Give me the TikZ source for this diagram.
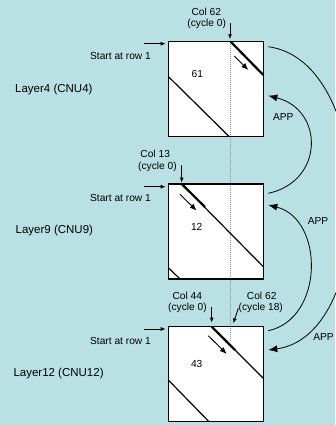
\documentclass[tikz,border=0pt]{standalone}
\usepackage{fontspec}
\setmainfont{Liberation Sans}
\usetikzlibrary{arrows.meta,calc}
\definecolor{bgcyan}{RGB}{185,224,227}
\definecolor{guidegray}{RGB}{150,150,150}
\begin{document}
\begin{tikzpicture}[x=1pt,y=1pt,
  blk/.style={fill=white, minimum size=95pt, inner sep=0pt, outer sep=0pt},
  frame/.style={line width=1.2pt},
  lbl/.style={font=\fontsize{10.2}{12}\selectfont, inner sep=0pt},
  lyr/.style={font=\fontsize{11.5}{13}\selectfont, inner sep=0pt, anchor=west},
  ptr/.style={line width=0.9pt, -{Latex[length=5pt,width=4pt]}},
  mv/.style={line width=0.9pt, -{Latex[length=7pt,width=5.5pt]}},
  diagthick/.style={line width=2.2pt},
  diagthin/.style={line width=1.2pt},
  app/.style={line width=0.8pt, -{Latex[length=9pt,width=7pt]}},
  guide/.style={guidegray, line width=0.7pt, dash pattern=on 1pt off 1pt}
]
\fill[bgcyan] (0,0) rectangle (335,-425);
\useasboundingbox (0,0) rectangle (335,-425);

% matrix blocks
\node[blk] (b1) at (215.8,-89.2) {};
\node[blk] (b2) at (215.8,-231.5) {};
\node[blk] (b3) at (215.8,-374.2) {};

% column 62 guide
\coordinate (g1) at ($(b1.north west)+(62.4,0)$);
\coordinate (g2) at ($(b3.north west)+(62.4,-14)$);
\draw[guide] (g1) -- (g2);

\foreach \b in {b1,b2,b3}
  \draw[frame] (\b.north west) rectangle (\b.south east);

% Layer 4 diagonals (col 62)
\coordinate (p1a) at ($(b1.north west)+(62.4,0)$);
\coordinate (p1b) at ($(b1.north east)+(0,-33.3)$);
\coordinate (p1c) at ($(b1.north west)+(0,-34.8)$);
\coordinate (p1d) at ($(b1.south west)+(61,0)$);
\draw[diagthick] (p1a) -- (p1b);
\draw[diagthin] (p1c) -- (p1d);

% Layer 9 diagonals (col 13)
\coordinate (p2a) at ($(b2.north west)+(13.4,0)$);
\coordinate (p2b) at ($(b2.north east)+(0,-82.7)$);
\coordinate (p2t) at ($(b2.north west)+(36.7,-23)$);
\coordinate (p2c) at ($(b2.south west)+(0,11.3)$);
\coordinate (p2d) at ($(b2.south west)+(11.7,0)$);
\draw[diagthin] (p2a) -- (p2b);
\draw[diagthick] (p2a) -- (p2t);
\draw[diagthin] (p2c) -- (p2d);

% Layer 12 diagonals (col 44)
\coordinate (p3a) at ($(b3.north west)+(43.4,0)$);
\coordinate (p3b) at ($(b3.north east)+(0,-51.6)$);
\coordinate (p3t) at ($(b3.north west)+(66.7,-23.3)$);
\coordinate (p3c) at ($(b3.north west)+(0,-53.3)$);
\coordinate (p3d) at ($(b3.south west)+(40.7,0)$);
\draw[diagthin] (p3a) -- (p3b);
\draw[diagthick] (p3a) -- (p3t);
\draw[diagthin] (p3c) -- (p3d);

% processing direction inside blocks
\coordinate (m1a) at (234.3,-56);   \coordinate (m1b) at (248.3,-70);
\coordinate (m2a) at (180,-194.3);  \coordinate (m2b) at (196.7,-210.7);
\coordinate (m3a) at (208.3,-335.7);\coordinate (m3b) at (226.7,-354);
\draw[mv] (m1a) -- (m1b);
\draw[mv] (m2a) -- (m2b);
\draw[mv] (m3a) -- (m3b);

% block numbers
\node[lbl] (n1) at (197.3,-74) {61};
\node[lbl] (n2) at (196.7,-226.7) {12};
\node[lbl] (n3) at (196.7,-364.3) {43};

% layer names
\node[lyr] (l1) at (15,-89.3) {Layer4 (CNU4)};
\node[lyr] (l2) at (15.5,-230.7) {Layer9 (CNU9)};
\node[lyr] (l3) at (13.3,-374) {Layer12 (CNU12)};

% start rows
\coordinate (s1a) at (144.3,-43.7);  \coordinate (s1b) at (165.7,-43.7);
\coordinate (s2a) at (144.3,-186.7); \coordinate (s2b) at (165.7,-186.7);
\coordinate (s3a) at (144.3,-329);   \coordinate (s3b) at (165.7,-329);
\draw[ptr] (s1a) -- (s1b);
\draw[ptr] (s2a) -- (s2b);
\draw[ptr] (s3a) -- (s3b);
\node[lbl] (r1) at (120.5,-56) {Start at row 1};
\node[lbl] (r2) at (120.5,-198.3) {Start at row 1};
\node[lbl] (r3) at (120.5,-341) {Start at row 1};

% start columns
\node[lbl] (c1t) at (206.3,-11.7) {Col 62};
\node[lbl] (c1c) at (206.7,-24.3) {(cycle 0)};
\coordinate (k1a) at (230,-22.7); \coordinate (k1b) at (230,-39.3);
\draw[ptr] (k1a) -- (k1b);

\node[lbl] (c2t) at (155.2,-154) {Col 13};
\node[lbl] (c2c) at (157.5,-166.7) {(cycle 0)};
\coordinate (k2a) at (181.7,-165); \coordinate (k2b) at (181.7,-182.7);
\draw[ptr] (k2a) -- (k2b);

\node[lbl] (c3t) at (187.3,-295.7) {Col 44};
\node[lbl] (c3c) at (187.5,-308.3) {(cycle 0)};
\coordinate (k3a) at (211.7,-307.3); \coordinate (k3b) at (211.7,-322.7);
\draw[ptr] (k3a) -- (k3b);

\node[lbl] (c4t) at (261.7,-295.7) {Col 62};
\node[lbl] (c4c) at (260.8,-308.3) {(cycle 18)};
\coordinate (k4a) at (238.3,-308.3); \coordinate (k4b) at (233.3,-323.3);
\draw[ptr] (k4a) -- (k4b);

% APP transfers
\coordinate (aS) at ($(b1.north east)+(5,-5)$);
\coordinate (aE) at ($(b3.north east)+(5,-23.3)$);
\coordinate (bS) at ($(b2.north east)+(5,-9.3)$);
\coordinate (bE) at ($(b1.north east)+(5,-54)$);
\coordinate (cS) at ($(b3.north east)+(5,-4)$);
\coordinate (cE) at ($(b2.north east)+(5,-21)$);
\draw[app] (aS) .. controls +(110,-15) and +(110,15) .. (aE);
\draw[app] (bS) .. controls +(56,12) and +(56,-14) .. (bE);
\draw[app] (cS) .. controls +(56,12) and +(56,-14) .. (cE);
\node[lbl] (t1) at (283.3,-117.3) {APP};
\node[lbl] (t2) at (318,-220.7) {APP};
\node[lbl] (t3) at (323.5,-336.7) {APP};
\end{tikzpicture}
\end{document}
